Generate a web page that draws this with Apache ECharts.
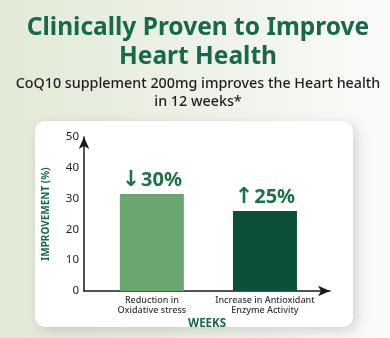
<!DOCTYPE html>
<html>
<head>
<meta charset="utf-8">
<script src="https://cdn.jsdelivr.net/npm/echarts@6/dist/echarts.min.js"></script>
<style>
  html, body { margin: 0; padding: 0; }
  #chart { width: 390px; height: 338px; }
</style>
</head>
<body>
<div id="chart"></div>
<script>
// categories and values
const categories = ["Reduction in\nOxidative stress", "Increase in Antioxidant\nEnzyme Activity"];
const improvement = [31.5, 26];
const barArrows = ["↓", "↑"];
const barLabels = ["30%", "25%"];
const barColors = ["#6aa66f", "#0b4f36"];
const positions = [1, 2];

const FONT = "Noto Sans";
const GREEN = "#17694a";

const chart = echarts.init(document.getElementById("chart"), null, { renderer: "canvas" });

chart.setOption({
  backgroundColor: {
    type: "linear", x: 0, y: 0, x2: 1, y2: 0,
    colorStops: [
      { offset: 0, color: "#e2ead6" },
      { offset: 0.55, color: "#eef2e8" },
      { offset: 1, color: "#fbfcfa" }
    ]
  },
  animation: false,
  textStyle: { fontFamily: FONT },
  title: [
    {
      text: "Clinically Proven to Improve\nHeart Health",
      left: 193,
      top: 9,
      textAlign: "center",
      textStyle: { fontFamily: FONT, fontSize: 24.5, fontWeight: "bold", color: GREEN, lineHeight: 29 }
    },
    {
      text: "CoQ10 supplement 200mg improves the Heart health\nin 12 weeks*",
      left: 193,
      top: 70,
      textAlign: "center",
      textStyle: { fontFamily: FONT, fontSize: 14.3, fontWeight: 500, color: "#1f1f1f", lineHeight: 18 }
    }
  ],
  // white card behind the plot
  graphic: [{
    type: "rect",
    z: -1,
    shape: { x: 35, y: 121, width: 318, height: 206, r: 10 },
    style: {
      fill: "#ffffff",
      shadowBlur: 14,
      shadowColor: "rgba(0,0,0,0.15)",
      shadowOffsetX: 4,
      shadowOffsetY: 4
    }
  }],
  grid: { left: 84, right: 60, top: 137, bottom: 47 },
  xAxis: {
    type: "value",
    min: 0.4,
    max: 2.575,
    name: "WEEKS",
    nameLocation: "middle",
    nameGap: 27,
    nameTextStyle: { fontFamily: FONT, fontSize: 11.5, fontWeight: "bold", color: GREEN },
    axisLine: {
      show: true,
      lineStyle: { color: "#1a1a1a", width: 1.5 },
      symbol: ["none", "arrow"],
      symbolSize: [8, 12]
    },
    axisTick: { show: false },
    splitLine: { show: false },
    axisLabel: {
      customValues: positions,
      formatter: (v) => categories[positions.indexOf(Math.round(v))] || "",
      fontSize: 9,
      fontWeight: 500,
      color: "#333",
      lineHeight: 10,
      margin: 4
    }
  },
  yAxis: {
    type: "value",
    min: 0,
    max: 50,
    interval: 10,
    name: "IMPROVEMENT (%)",
    nameLocation: "middle",
    nameRotate: 90,
    nameGap: 33,
    nameTextStyle: { fontFamily: FONT, fontSize: 10, fontWeight: "bold", color: GREEN },
    axisLine: {
      show: true,
      lineStyle: { color: "#1a1a1a", width: 1.5 },
      symbol: ["none", "arrow"],
      symbolSize: [8, 12]
    },
    axisTick: { show: false },
    splitLine: { show: false },
    axisLabel: { fontSize: 11.5, color: "#222", margin: 5 }
  },
  series: [{
    type: "bar",
    barWidth: 64,
    data: improvement.map((v, i) => ({
      value: [positions[i], v],
      itemStyle: { color: barColors[i] }
    })),
    label: {
      show: true,
      position: "top",
      distance: 3,
      formatter: (p) => "{a|" + barArrows[p.dataIndex] + "}{b|" + barLabels[p.dataIndex] + "}",
      rich: {
        a: { fontFamily: "DejaVu Sans", fontSize: 22, fontWeight: "bold", color: "#1b7346", padding: [0, 1, 0, 0] },
        b: { fontFamily: FONT, fontSize: 20, fontWeight: "bold", color: "#1b7346" }
      }
    }
  }]
});
</script>
</body>
</html>
